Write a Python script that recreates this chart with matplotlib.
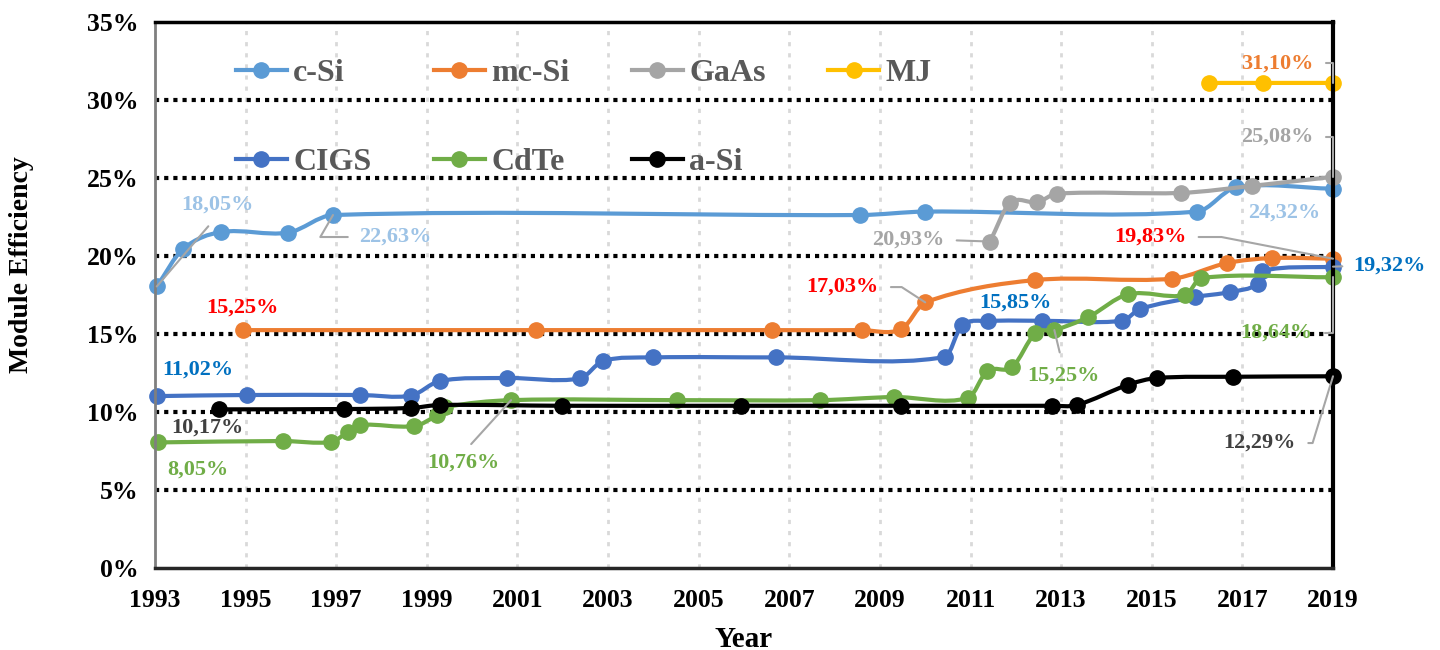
import numpy as np
import matplotlib
matplotlib.use('Agg')
import matplotlib.pyplot as plt
from matplotlib.path import Path
from matplotlib.patches import PathPatch
from matplotlib.lines import Line2D

plt.rcParams['font.family'] = ['Liberation Serif', 'DejaVu Serif']
plt.rcParams['font.weight'] = 'bold'

# data (year, module efficiency %)
csi_x = [1993.04, 1993.62, 1994.46, 1995.94, 1996.93, 2008.56, 2010.0, 2016.0, 2016.86, 2019.0]
csi_y = [18.05, 20.45, 21.54, 21.5, 22.63, 22.63, 22.85, 22.85, 24.4, 24.32]

mcsi_x = [1994.94, 2001.41, 2006.62, 2008.6, 2009.47, 2010.0, 2012.43, 2015.45, 2016.66, 2017.66, 2019.0]
mcsi_y = [15.25, 15.25, 15.25, 15.25, 15.3, 17.03, 18.46, 18.55, 19.55, 19.87, 19.83]

gaas_x = [2011.43, 2011.87, 2012.47, 2012.91, 2015.65, 2017.22, 2019.0]
gaas_y = [20.93, 23.4, 23.45, 24.0, 24.05, 24.5, 25.08]

mj_x = [2016.27, 2017.46, 2019.0]
mj_y = [31.1, 31.1, 31.1]

cigs_x = [1993.04, 1995.03, 1997.53, 1998.65, 1999.29, 2000.77, 2002.38, 2002.89, 2003.99,
          2006.71, 2010.44, 2010.81, 2011.39, 2012.58, 2014.35, 2014.74, 2015.96, 2016.73,
          2017.35, 2017.44, 2019.0]
cigs_y = [11.02, 11.09, 11.09, 11.05, 11.99, 12.18, 12.15, 13.27, 13.5,
          13.5, 13.53, 15.55, 15.83, 15.85, 15.85, 16.6, 17.37, 17.69,
          18.21, 19.05, 19.32]

cdte_x = [1993.07, 1995.83, 1996.89, 1997.26, 1997.53, 1998.72, 1999.23, 1999.4, 2000.86,
          2004.52, 2007.68, 2009.31, 2010.95, 2011.37, 2011.92, 2012.43, 2012.85, 2013.6,
          2014.48, 2015.74, 2016.09, 2019.0]
cdte_y = [8.05, 8.14, 8.08, 8.72, 9.17, 9.1, 9.81, 10.3, 10.76,
          10.76, 10.76, 10.96, 10.9, 12.63, 12.88, 15.06, 15.25, 16.09,
          17.55, 17.5, 18.59, 18.64]

asi_x = [1994.41, 1997.17, 1998.65, 1999.29, 2001.98, 2005.94, 2009.47, 2012.8, 2013.35,
         2014.48, 2015.12, 2016.8, 2019.0]
asi_y = [10.17, 10.19, 10.26, 10.45, 10.4, 10.4, 10.4, 10.4, 10.45,
         11.75, 12.18, 12.26, 12.29]

series = [
    ('c-Si', csi_x, csi_y, '#5B9BD5'),
    ('mc-Si', mcsi_x, mcsi_y, '#ED7D31'),
    ('GaAs', gaas_x, gaas_y, '#A5A5A5'),
    ('MJ', mj_x, mj_y, '#FFC000'),
    ('CIGS', cigs_x, cigs_y, '#4472C4'),
    ('CdTe', cdte_x, cdte_y, '#70AD47'),
    ('a-Si', asi_x, asi_y, '#000000'),
]

year_ticks = list(range(1993, 2020, 2))
pct_ticks = list(range(0, 36, 5))


def smooth_path(x, y):
    """Excel-like smoothed line: cubic Bezier through every point."""
    x = np.asarray(x, float)
    y = np.asarray(y, float)
    n = len(x)
    m = np.zeros(n)
    for i in range(n):
        a = max(i - 1, 0)
        b = min(i + 1, n - 1)
        m[i] = (y[b] - y[a]) / (x[b] - x[a])
    verts = [(x[0], y[0])]
    codes = [Path.MOVETO]
    for i in range(n - 1):
        dx = (x[i + 1] - x[i]) / 3.0
        verts += [(x[i] + dx, y[i] + m[i] * dx),
                  (x[i + 1] - dx, y[i + 1] - m[i + 1] * dx),
                  (x[i + 1], y[i + 1])]
        codes += [Path.CURVE4] * 3
    return Path(verts, codes)


fig = plt.figure(figsize=(14.4, 6.5), dpi=100)
ax = fig.add_axes([0.1076, 0.1262, 0.8181, 0.8398])

ax.set_xlim(1993, 2019)
ax.set_ylim(0, 35)

# gridlines
for yv in pct_ticks[1:-1]:
    ax.axhline(yv, color='black', lw=3, ls=(0, (1, 1.2)), zorder=1)
for xv in year_ticks[1:-1]:
    ax.axvline(xv, color='#D9D9D9', lw=2, ls=(0, (1.5, 2.5)), zorder=0)

handles = []
for z, (name, xs, ys, col) in enumerate(series):
    ax.add_patch(PathPatch(smooth_path(xs, ys), fill=False, edgecolor=col, lw=3,
                           capstyle='round', zorder=3 + z))
    ax.plot(xs, ys, ls='none', marker='o', ms=11, color=col, zorder=3 + z, clip_on=False)
    handles.append(Line2D([], [], color=col, lw=3, marker='o', ms=11, label=name))

ax.set_xticks(year_ticks)
ax.set_yticks(pct_ticks)
ax.set_yticklabels(['%d%%' % v for v in pct_ticks])
ax.tick_params(length=0, labelsize=18.5, pad=12)
ax.tick_params(axis='x', pad=15)
for lab in ax.get_xticklabels() + ax.get_yticklabels():
    lab.set_fontweight('bold')
ax.set_xlabel('Year', fontsize=21, fontweight='bold', labelpad=10)
ax.set_ylabel('Module Efficiency', fontsize=20, fontweight='bold')
ax.yaxis.set_label_coords(-0.103, 0.555)

ax.spines['top'].set_linewidth(2.5)
ax.spines['right'].set_linewidth(3)
ax.spines['left'].set_color('#7F7F7F')
ax.spines['left'].set_linewidth(2)
ax.spines['bottom'].set_color('#262626')
ax.spines['bottom'].set_linewidth(2.5)
for s in ax.spines.values():
    s.set_zorder(20)

order = [0, 4, 1, 5, 2, 6, 3]
leg = ax.legend([handles[i] for i in order], [handles[i].get_label() for i in order],
                ncol=4, loc='upper left', bbox_to_anchor=(0.044, 0.985), frameon=False,
                fontsize=23, labelspacing=1.85, columnspacing=1.95, handlelength=1.6,
                handletextpad=0.2)
for t in leg.get_texts():
    t.set_color('#595959')
    t.set_fontweight('bold')
leg.set_zorder(25)

lead = dict(arrowstyle='-', color='#A6A6A6', lw=1.5, shrinkB=0)
annots = [
    # text, xy, xytext, colour, connection, relpos, shrinkA
    ('18,05%', (1993.04, 18.05), (1994.39, 23.27), '#9DC3E6', 'arc3', (0.5, 0.0), 8),
    ('22,63%', (1996.93, 22.63), (1998.30, 21.22), '#9DC3E6', 'angle,angleA=0,angleB=60,rad=0', (0.0, 0.5), 6),
    ('15,25%', None, (1994.94, 16.67), '#FF0000', None, None, 0),
    ('11,02%', None, (1993.95, 12.69), '#0070C0', None, None, 0),
    ('10,17%', None, (1994.15, 8.97), '#404040', None, None, 0),
    ('8,05%', None, (1993.95, 6.28), '#70AD47', None, None, 0),
    ('10,76%', (2000.86, 10.76), (1999.8, 6.73), '#70AD47', 'arc3', (0.5, 1.0), 6),
    ('17,03%', (2010.0, 17.03), (2008.17, 18.01), '#FF0000', 'angle,angleA=0,angleB=147,rad=0', (1.0, 0.5), 7),
    ('20,93%', (2011.43, 20.93), (2009.62, 21.03), '#A5A5A5', 'arc3', (1.0, 0.5), 7),
    ('15,85%', None, (2012.0, 16.99), '#0070C0', None, None, 0),
    ('15,25%', (2012.85, 15.25), (2013.04, 12.31), '#70AD47', 'arc3', (0.5, 1.0), 8),
    ('19,83%', (2019.0, 19.83), (2014.96, 21.22), '#FF0000', 'angle,angleA=0,angleB=169,rad=0', (1.0, 0.5), 7),
    ('24,32%', None, (2017.92, 22.76), '#9DC3E6', None, None, 0),
    ('25,08%', (2019.0, 25.08), (2017.76, 27.63), '#A5A5A5', 'angle,angleA=0,angleB=90,rad=0', (1.0, 0.5), 7),
    ('31,10%', (2019.0, 31.1), (2017.76, 32.37), '#ED7D31', 'angle,angleA=0,angleB=90,rad=0', (1.0, 0.5), 7),
    ('19,32%', (2019.0, 19.32), (2020.25, 19.36), '#0070C0', 'arc3', (0.0, 0.5), 6),
    ('18,64%', (2019.0, 18.64), (2017.76, 15.06), '#70AD47', 'angle,angleA=0,angleB=90,rad=0', (1.0, 0.5), 7),
    ('12,29%', (2019.0, 12.29), (2017.38, 8.01), '#404040', 'angle,angleA=0,angleB=73,rad=0', (1.0, 0.5), 7),
]
for txt, xy, xyt, col, conn, rel, shr in annots:
    if xy is None:
        ax.text(xyt[0], xyt[1], txt, color=col, fontsize=16, fontweight='bold',
                ha='center', va='center', zorder=30)
    else:
        ap = dict(lead, connectionstyle=conn, relpos=rel, shrinkA=shr)
        ax.annotate(txt, xy=xy, xytext=xyt, color=col, fontsize=16, fontweight='bold',
                    ha='center', va='center', arrowprops=ap, annotation_clip=False, zorder=30)

fig.savefig('out.png', dpi=100)
